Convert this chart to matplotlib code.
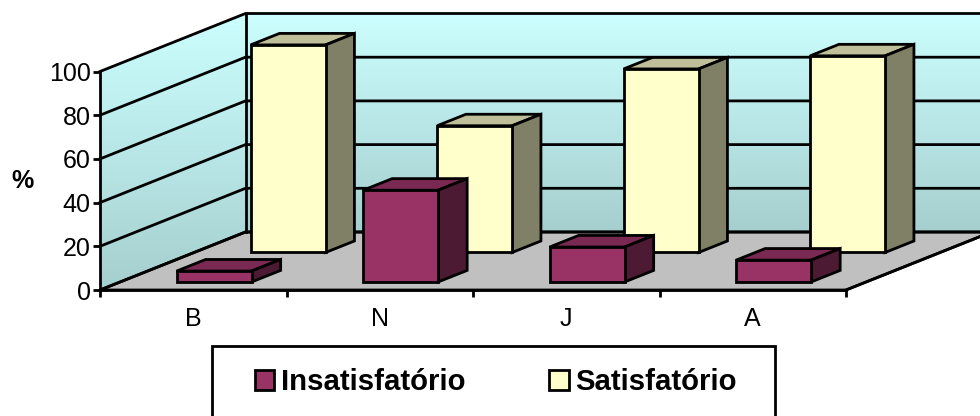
import numpy as np
import matplotlib
matplotlib.use('Agg')
import matplotlib.pyplot as plt
from matplotlib.patches import Patch, Polygon, Rectangle

plt.rcParams['font.family'] = ['Liberation Sans', 'DejaVu Sans']

categories = ['B', 'N', 'J', 'A']
insatisfatorio = [5, 42, 16, 10]
satisfatorio = [95, 58, 84, 90]
y_ticks = [0, 20, 40, 60, 80, 100]

# shear of the fake 3d depth, in data units
DEPTH_X = 145.5 / 186.5
DEPTH_Y = 58 / 2.185
LW = 2.0


def proj(u, v, d):
    return u + d * DEPTH_X, v + d * DEPTH_Y


def poly(ax, pts, color, z, edge='black'):
    p = Polygon([proj(*pt) for pt in pts], closed=True, facecolor=color, edgecolor=edge,
                linewidth=LW, joinstyle='miter', clip_on=False, zorder=z)
    ax.add_patch(p)
    return p


def wall(ax, pts, top, bottom, extent):
    # vertical gradient clipped to the wall shape
    clip = poly(ax, pts, 'none', 1, edge='none')
    ramp = np.linspace(0, 1, 256)[:, None, None]
    img = (1 - ramp) * np.array(top) + ramp * np.array(bottom)
    im = ax.imshow(img, extent=extent, aspect='auto', origin='upper', zorder=1)
    im.set_clip_path(clip)
    im.set_clip_box(fig.bbox)


def bar3d(ax, i, value, d0, d1, front, side, top, z):
    u0, u1 = i + 0.303, i + 0.705
    poly(ax, [(u0, value, d0), (u1, value, d0), (u1, value, d1), (u0, value, d1)], top, z)
    poly(ax, [(u1, 0, d0), (u1, 0, d1), (u1, value, d1), (u1, value, d0)], side, z)
    poly(ax, [(u0, 0, d0), (u1, 0, d0), (u1, value, d0), (u0, value, d0)], front, z)


fig = plt.figure(figsize=(9.8, 4.16), dpi=100)
ax = fig.add_axes([100 / 980, 1 - 290 / 416, 746 / 980, 218.5 / 416])

wall_top = (0.80, 1.0, 1.0)
wall_bottom = (0.65, 0.81, 0.81)

# paredes e chao
wall(ax, [(0, 0, 0), (0, 0, 1), (0, 100, 1), (0, 100, 0)], wall_top, wall_bottom,
     (0, DEPTH_X, 0, 100 + DEPTH_Y))
wall(ax, [(0, 0, 1), (4, 0, 1), (4, 100, 1), (0, 100, 1)], wall_top, wall_bottom,
     (DEPTH_X, 4 + DEPTH_X, DEPTH_Y, 100 + DEPTH_Y))
poly(ax, [(0, 0, 0), (4, 0, 0), (4, 0, 1), (0, 0, 1)], '#C0C0C0', 2)

# linhas de grade
for v in y_ticks:
    x0, y0 = proj(0, v, 0)
    x1, y1 = proj(0, v, 1)
    x2, y2 = proj(4, v, 1)
    ax.plot([x0, x1, x2], [y0, y1, y2], color='black', lw=LW, zorder=3, clip_on=False,
            solid_joinstyle='miter')
x0, y0 = proj(0, 0, 1)
x1, y1 = proj(0, 100, 1)
ax.plot([x0, x1], [y0, y1], color='black', lw=LW, zorder=3, clip_on=False)
x0, y0 = proj(4, 0, 0)
x1, y1 = proj(4, 0, 1)
ax.plot([x0, x1], [y0, y1], color='black', lw=LW, zorder=3, clip_on=False)

# barras: serie de tras primeiro
for i, val in enumerate(satisfatorio):
    bar3d(ax, i, val, 0.647, 0.845, '#FFFFCC', '#808066', '#BFBF99', 4)
for i, val in enumerate(insatisfatorio):
    bar3d(ax, i, val, 0.138, 0.338, '#993366', '#4D1A33', '#7A2952', 5)

ax.set_xlim(0, 4)
ax.set_ylim(0, 100)
ax.patch.set_visible(False)
for s in ['top', 'right']:
    ax.spines[s].set_visible(False)
for s in ['left', 'bottom']:
    ax.spines[s].set_linewidth(LW)
    ax.spines[s].set_zorder(6)

ax.set_yticks(y_ticks)
ax.set_xticks(range(len(categories) + 1))
ax.set_xticklabels([])
ax.set_xticks(np.arange(len(categories)) + 0.5, categories, minor=True)
ax.tick_params(axis='both', which='major', length=4.8, width=LW, labelsize=18, pad=2)
ax.tick_params(axis='x', which='minor', length=0, labelsize=18, pad=12)

ax.set_ylabel('%', rotation=0, fontsize=18, fontweight='bold', va='center', ha='center')
ax.yaxis.set_label_coords((22 - 100) / 746, (290 - 181) / 218.5)

# legenda
fig.add_artist(Rectangle((212 / 980, -0.05), 563 / 980, 1.05 - 346 / 416, transform=fig.transFigure,
                         facecolor='white', edgecolor='black', linewidth=LW))
handles = [Patch(facecolor='#993366', edgecolor='black', linewidth=LW, label='Insatisfatório'),
           Patch(facecolor='#FFFFCC', edgecolor='black', linewidth=LW, label='Satisfatório')]
fig.legend(handles=handles, ncol=2, frameon=False, loc='center left',
           bbox_to_anchor=(255 / 980, 1 - 382 / 416), borderaxespad=0, borderpad=0,
           prop={'size': 21.2, 'weight': 'bold'}, handlelength=0.66, handleheight=0.66,
           handletextpad=0.22, columnspacing=2.85)

fig.savefig('out.png', dpi=100)
